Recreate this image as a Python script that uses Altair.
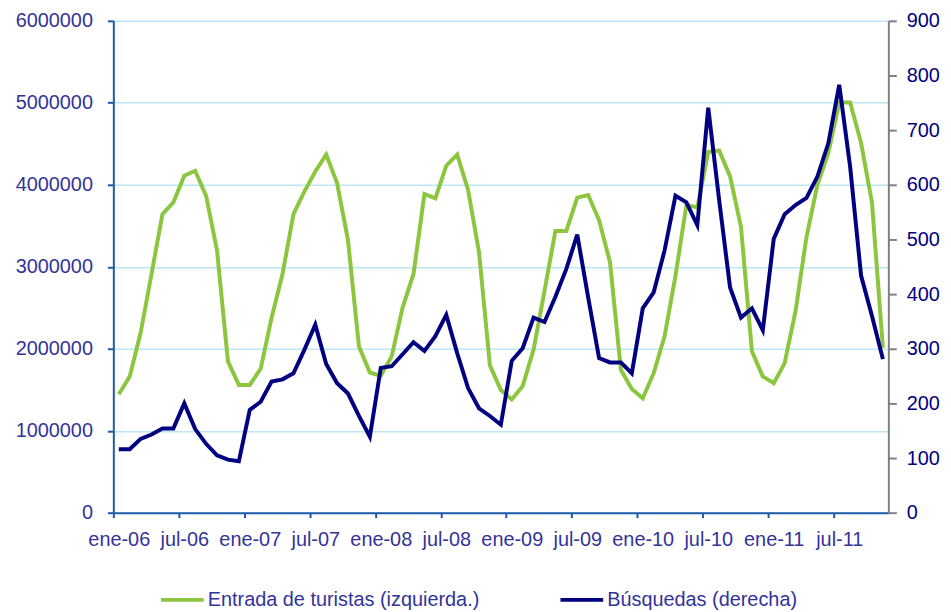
import json
import altair as alt
import pandas as pd

# ---- data (monthly, ene-06 .. nov-11) ----
months = ["ene", "feb", "mar", "abr", "may", "jun", "jul", "ago", "sep", "oct", "nov", "dic"]
years = ["06", "07", "08", "09", "10", "11"]
tick_labels = ["ene-06", "jul-06", "ene-07", "jul-07", "ene-08", "jul-08",
               "ene-09", "jul-09", "ene-10", "jul-10", "ene-11", "jul-11"]

turistas = [1444000, 1661000, 2194000, 2912000, 3642000, 3786000, 4110000, 4171000, 3864000, 3199000, 1846000, 1559000,
            1559000, 1756000, 2379000, 2912000, 3642000, 3917000, 4163000, 4368000, 4020000, 3322000, 2030000, 1710000,
            1670000, 1907000, 2502000, 2912000, 3888000, 3835000, 4233000, 4368000, 3938000, 3179000, 1797000, 1497000,
            1382000, 1546000, 1989000, 2707000, 3437000, 3437000, 3843000, 3876000, 3568000, 3056000, 1743000, 1510000,
            1395000, 1702000, 2153000, 2892000, 3753000, 3724000, 4401000, 4418000, 4102000, 3486000, 1969000, 1661000,
            1579000, 1825000, 2461000, 3363000, 3999000, 4389000, 5004000, 5004000, 4512000, 3782000, 2010000]

busquedas = [116, 116, 135, 143, 154, 154, 200, 153, 126, 105, 97, 94,
             188, 203, 240, 244, 255, 298, 344, 272, 237, 218, 177, 139,
             265, 268, 290, 312, 296, 323, 362, 292, 228, 191, 177, 161,
             278, 301, 357, 349, 395, 446, 509, 394, 283, 275, 275, 255,
             374, 403, 480, 580, 568, 526, 741, 572, 412, 357, 374, 334,
             501, 546, 563, 576, 615, 676, 783, 633, 434, 360, 281]

series_names = ["Entrada de turistas (izquierda.)", "Búsquedas (derecha)"]
series_colors = ["#8CC63F", "#000080"]

left_ticks = [0, 1000000, 2000000, 3000000, 4000000, 5000000, 6000000]
right_ticks = [0, 100, 200, 300, 400, 500, 600, 700, 800, 900]

n = len(turistas)
mes = [f"{months[i % 12]}-{years[i // 12]}" for i in range(n)]
df = pd.DataFrame({
    "idx": list(range(n)),
    "mes": mes,
    "turistas": turistas,
    "busquedas": busquedas,
})

FONT = "Liberation Sans"
BLUE_AXIS = "#1F5BA8"
LABEL = "#333399"

label_expr = "%s[round(datum.value / 6)]" % json.dumps(tick_labels)

color_scale = alt.Scale(domain=series_names, range=series_colors)

x_enc = alt.X(
    "pos:Q",
    scale=alt.Scale(domain=[0, n], nice=False, zero=False),
    axis=alt.Axis(
        values=list(range(0, 72, 6)), labelExpr=label_expr, labelOffset=5.5,
        grid=False, tickSize=5, tickWidth=2, tickColor=BLUE_AXIS,
        domainColor=BLUE_AXIS, domainWidth=2, labelFont=FONT, labelFontSize=20,
        labelColor=LABEL, labelPadding=12, title=None, labelFlush=False,
        labelOverlap=False,
    ),
)

base = alt.Chart(df).transform_calculate(pos="datum.idx + 0.5")

green = base.mark_line(strokeWidth=4, color=series_colors[0]).encode(
    x=x_enc,
    y=alt.Y(
        "turistas:Q",
        scale=alt.Scale(domain=[0, 6000000], nice=False),
        axis=alt.Axis(
            values=left_ticks, format="d", grid=True, gridColor="#BDE6F6",
            gridWidth=1.5, tickSize=6, tickWidth=2, tickColor=BLUE_AXIS,
            domainColor=BLUE_AXIS, domainWidth=2, labelFont=FONT,
            labelFontSize=20, labelColor=LABEL, labelPadding=15, title=None,
            labelFlush=False, orient="left",
        ),
    ),
    color=alt.Color(
        "s:N", scale=color_scale,
        legend=alt.Legend(
            orient="none", legendX=46, legendY=559, direction="horizontal",
            title=None, symbolType="stroke", symbolStrokeWidth=4,
            symbolSize=1849, labelFont=FONT, labelFontSize=20,
            labelColor=LABEL, labelOffset=2, columnPadding=73, padding=0,
            labelLimit=500,
        ),
    ),
).transform_calculate(s="'%s'" % series_names[0])

navy = base.mark_line(strokeWidth=4, color=series_colors[1]).encode(
    x=x_enc,
    y=alt.Y(
        "busquedas:Q",
        scale=alt.Scale(domain=[0, 900], nice=False),
        axis=alt.Axis(
            values=right_ticks, grid=False, tickSize=8, tickWidth=2,
            tickColor="#808080", domainColor="#808080", domainWidth=2,
            labelFont=FONT, labelFontSize=20, labelColor="#000080",
            labelPadding=10, title=None, labelFlush=False, orient="right",
        ),
    ),
    color=alt.Color("s:N", scale=color_scale),
).transform_calculate(s="'%s'" % series_names[1])

chart = (
    alt.layer(green, navy)
    .resolve_scale(y="independent")
    .properties(
        width=780, height=495,
        autosize=alt.AutoSizeParams(type="none"),
        padding={"left": 106, "top": 11, "right": 55, "bottom": 97},
    )
    .configure_view(stroke=None)
    .configure(background="white")
)

chart.save("out.html", embed_options={"renderer": "svg", "actions": False})
